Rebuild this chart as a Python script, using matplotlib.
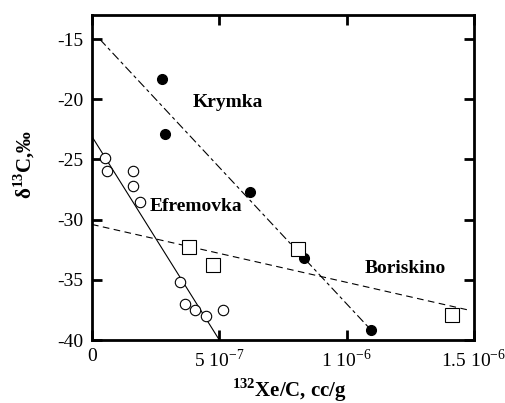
import matplotlib
matplotlib.use("Agg")
import matplotlib.pyplot as plt
import numpy as np

plt.rcParams['font.family'] = ['Liberation Serif', 'DejaVu Serif']
plt.rcParams['mathtext.fontset'] = 'custom'
plt.rcParams['mathtext.rm'] = 'Liberation Serif'
plt.rcParams['mathtext.bf'] = 'Liberation Serif:bold'
plt.rcParams['axes.unicode_minus'] = False

# Krymka (filled circles)
krymka_x = [0.275e-6, 0.287e-6, 0.62e-6, 0.832e-6, 1.097e-6]
krymka_y = [-18.3, -22.9, -27.7, -33.2, -39.2]
krymka_fit_x = [0.03e-6, 1.097e-6]
krymka_fit_y = [-15.0, -39.2]

# Efremovka (open circles)
efrem_x = [0.051e-6, 0.059e-6, 0.161e-6, 0.161e-6, 0.19e-6,
           0.346e-6, 0.365e-6, 0.404e-6, 0.448e-6, 0.515e-6]
efrem_y = [-24.9, -26.0, -26.0, -27.2, -28.5,
           -35.2, -37.0, -37.5, -38.0, -37.5]
efrem_fit_x = [0.0, 0.5e-6]
efrem_fit_y = [-23.1, -40.0]

# Boriskino (open squares)
boris_x = [0.381e-6, 0.475e-6, 0.81e-6, 1.413e-6]
boris_y = [-32.3, -33.8, -32.4, -37.9]
boris_fit_x = [0.0, 1.476e-6]
boris_fit_y = [-30.4, -37.5]

xticks = [0, 5e-7, 1e-6, 1.5e-6]
xtick_labels = ['0', r'5 10$^{-7}$', r'1 10$^{-6}$', r'1.5 10$^{-6}$']
yticks = [-40, -35, -30, -25, -20, -15]

fig = plt.figure(figsize=(5.06, 4.03), dpi=100)
ax = fig.add_axes([0.1818, 0.1563, 0.755, 0.8065])

ax.plot(krymka_fit_x, krymka_fit_y, color='black', lw=0.8, dashes=(8, 3, 3, 3))
ax.plot(efrem_fit_x, efrem_fit_y, color='black', lw=0.8)
ax.plot(boris_fit_x, boris_fit_y, color='black', lw=0.8, dashes=(6, 4))

ax.plot(krymka_x, krymka_y, 'o', color='black', ms=7, ls='none')
ax.plot(efrem_x, efrem_y, 'o', mfc='white', mec='black', mew=0.8, ms=7.5, ls='none')
ax.plot(boris_x, boris_y, 's', mfc='white', mec='black', mew=0.8, ms=10, ls='none')

ax.text(0.534e-6, -20.3, 'Krymka', fontsize=14, fontweight='bold', ha='center', va='center')
ax.text(0.408e-6, -28.9, 'Efremovka', fontsize=14, fontweight='bold', ha='center', va='center')
ax.text(1.231e-6, -34.1, 'Boriskino', fontsize=14, fontweight='bold', ha='center', va='center')

ax.set_xlim(0, 1.5e-6)
ax.set_ylim(-40, -13)
ax.set_xticks(xticks)
ax.set_xticklabels(xtick_labels)
ax.set_yticks(yticks)
ax.set_yticklabels([str(t) for t in yticks])

ax.tick_params(direction='in', length=7, width=2, labelsize=14,
               top=True, right=True, pad=6)
for s in ax.spines.values():
    s.set_linewidth(2)

ax.set_xlabel(r'$^{\mathbf{132}}$Xe/C, cc/g', fontsize=15, fontweight='bold')
ax.xaxis.set_label_coords(0.518, -0.112)
ax.set_ylabel(r'δ$^{\mathbf{13}}$C,‰', fontsize=15, fontweight='bold')
ax.yaxis.set_label_coords(-0.144, 0.54)

fig.savefig('out.png', dpi=100)
